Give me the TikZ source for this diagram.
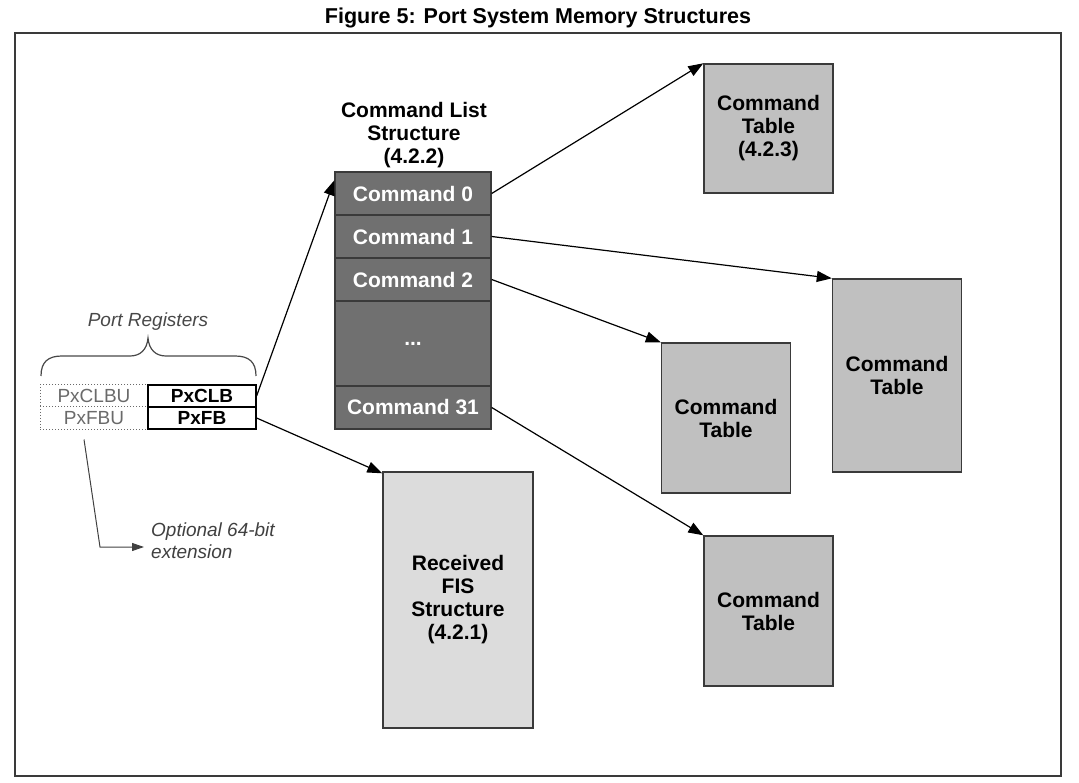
\documentclass[tikz,border=0pt]{standalone}
\usepackage{fontspec}
\setmainfont{Liberation Sans}
\usetikzlibrary{arrows.meta}
\definecolor{cmdgray}{HTML}{707070}
\definecolor{ctgray}{HTML}{C0C0C0}
\definecolor{fisgray}{HTML}{DCDCDC}
\definecolor{edgegray}{HTML}{3A3A3A}
\definecolor{txtgray}{HTML}{484848}
\definecolor{reggray}{HTML}{6A6A6A}
\begin{document}
\begin{tikzpicture}[x=1pt,y=-1pt,
  membox/.style={draw=edgegray, line width=1.4pt, inner sep=0pt, align=center,
    font=\bfseries\fontsize{21}{23}\selectfont},
  cmdrow/.style={membox, fill=cmdgray, text=white, minimum width=156pt},
  ctbox/.style={membox, fill=ctgray, minimum width=129pt},
  regdot/.style={draw=reggray, dotted, line width=1pt, inner sep=0pt, minimum width=108pt, minimum height=22pt,
    text=reggray, font=\fontsize{19}{21}\selectfont},
  regsolid/.style={draw=black, line width=1.2pt, inner sep=0pt, minimum width=108pt, minimum height=22pt,
    font=\bfseries\fontsize{19}{21}\selectfont},
  arr/.style={draw=black, line width=1.2pt, -{Triangle[length=15pt,width=11pt]}},
  note/.style={text=txtgray, font=\itshape\fontsize{19}{22}\selectfont, inner sep=0pt}
]
\useasboundingbox (0,0) rectangle (1079,783);
% title and frame
\node[font=\bfseries\fontsize{21.5}{24}\selectfont] (title) at (538,18) {Figure 5: Port System Memory Structures};
\draw[line width=2.6pt, edgegray] (15,33) rectangle (1061,776);

% command list
\node[font=\bfseries\fontsize{21}{23}\selectfont, align=center] (cltitle) at (414,135)
  {Command List\\Structure\\(4.2.2)};
\node[cmdrow, minimum height=43pt] (cmd0) at (413,193.5) {Command 0};
\node[cmdrow, minimum height=43pt] (cmd1) at (413,236.5) {Command 1};
\node[cmdrow, minimum height=43pt] (cmd2) at (413,279.5) {Command 2};
\node[cmdrow, minimum height=85pt] (cmddots) at (413,343.5) {...};
\node[cmdrow, minimum height=43pt] (cmd31) at (413,407.5) {Command 31};

% command tables
\node[ctbox, minimum height=129pt] (ct0) at (768.5,128.5) {Command\\Table\\(4.2.3)};
\node[ctbox, minimum height=193pt] (ct1) at (897,375.5) {Command\\Table};
\node[ctbox, minimum height=150pt] (ct2) at (726,418) {Command\\Table};
\node[ctbox, minimum height=150pt] (ct3) at (768.5,611) {Command\\Table};

% received FIS
\node[membox, fill=fisgray, minimum width=150pt, minimum height=256pt] (fis) at (458,600)
  {Received\\FIS\\Structure\\(4.2.1)};

% port registers
\node[regdot] (pxclbu) at (94,396) {PxCLBU};
\node[regdot] (pxfbu) at (94,418) {PxFBU};
\node[regsolid] (pxclb) at (202,396) {PxCLB};
\node[regsolid] (pxfb) at (202,418) {PxFB};
\node[note] (portreg) at (148,322) {Port Registers};
\draw[txtgray, line width=1.2pt]
  (41,376) .. controls (41,362) and (48,356) .. (62,356) -- (130,356)
  .. controls (140,356) and (147,350) .. (148,338)
  .. controls (149,350) and (156,356) .. (166,356) -- (235,356)
  .. controls (249,356) and (256,362) .. (256,376);

% optional extension
\node[note, text=black!75, align=left, anchor=west] (opt) at (151,541) {Optional 64-bit\\extension};
\coordinate (obend) at (100,547);
\coordinate (oend) at (144,547);
\draw[black!75, line width=1pt, -{Triangle[length=12pt,width=8pt]}]
  ([xshift=-10pt,yshift=-10pt]pxfbu.south) -- (obend) -- (oend);

% connectors
\draw[arr] (pxclb.east) -- ([yshift=-9pt]cmd0.north west);
\draw[arr] (pxfb.east) -- ([yshift=-2pt]fis.north west);
\draw[arr] (cmd0.east) -- (ct0.north west);
\draw[arr] (cmd1.east) -- (ct1.north west);
\draw[arr] (cmd2.east) -- (ct2.north west);
\draw[arr] (cmd31.east) -- (ct3.north west);
\end{tikzpicture}
\end{document}
